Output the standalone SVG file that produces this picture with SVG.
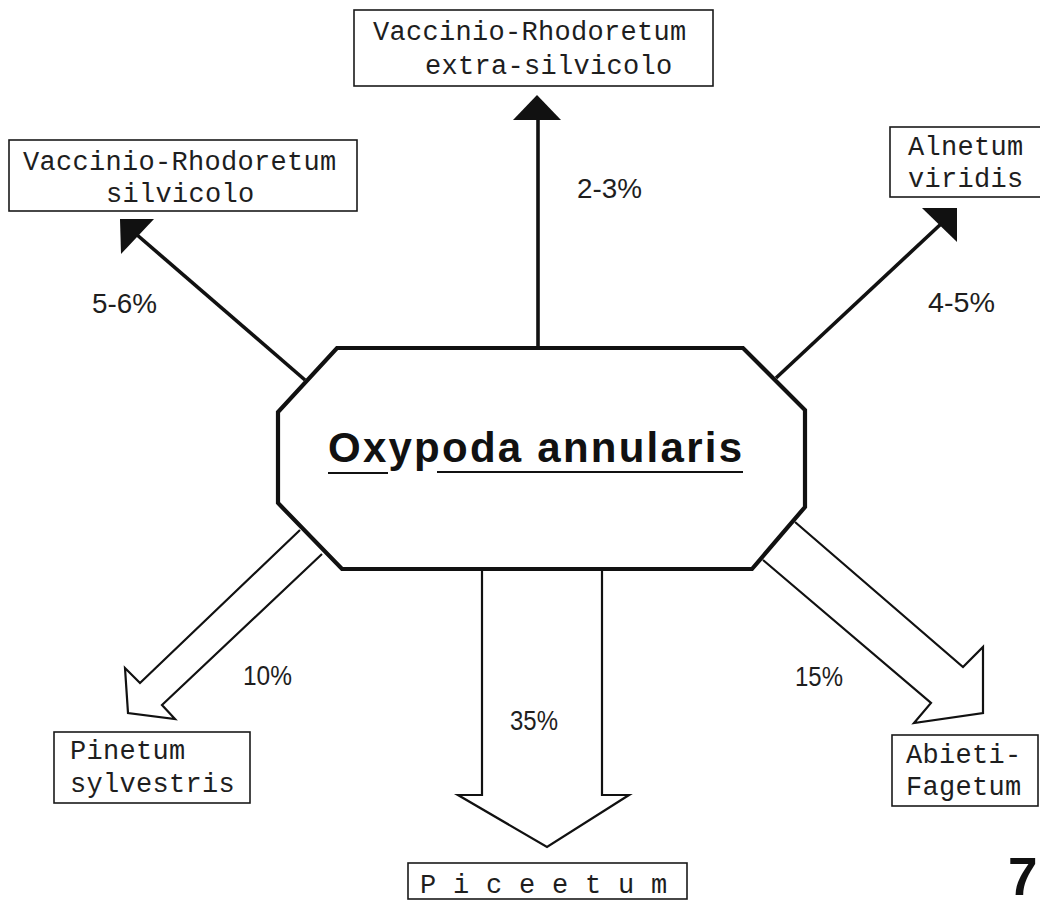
<svg xmlns="http://www.w3.org/2000/svg" width="1040" height="909" viewBox="0 0 1040 909">
<style>
.box{fill:#fff;stroke:#1a1a1a;stroke-width:1.6}
.tw{font-family:"Liberation Mono","DejaVu Sans Mono",monospace;font-size:27px;letter-spacing:0.3px;fill:#1e1e1e}
.pct{font-family:"Liberation Sans","DejaVu Sans",sans-serif;font-size:27px;fill:#1e1e1e}
.solid{fill:none;stroke:#111;stroke-width:3.6}
.head{fill:#111;stroke:none}
.hollow{fill:#fff;stroke:#111;stroke-width:2.2;stroke-linejoin:miter}
.oct{fill:#fff;stroke:#111;stroke-width:4.2;stroke-linejoin:miter}
.title{font-family:"Liberation Sans","DejaVu Sans",sans-serif;font-weight:bold;font-size:42px;fill:#111}
</style>
<rect width="1040" height="909" fill="#fff"/>

<g id="connectors">
  <!-- up: Vaccinio-Rhodoretum extra-silvicolo -->
  <line class="solid" x1="538" y1="350" x2="538" y2="118"/>
  <polygon class="head" points="537,95 513,120 561,120"/>
  <!-- up-left: Vaccinio-Rhodoretum silvicolo -->
  <line class="solid" x1="305" y1="380" x2="136" y2="234"/>
  <polygon class="head" points="120,219 154,219 121,254"/>
  <!-- up-right: Alnetum viridis -->
  <line class="solid" x1="776" y1="378" x2="942" y2="223"/>
  <polygon class="head" points="922,208 957,208 957,242"/>
  <!-- down-left hollow: Pinetum sylvestris -->
  <polyline class="hollow" points="300,530 140,683 125,668 128,713 175,719 162,705 322,554"/>
  <!-- down hollow: Piceetum -->
  <polyline class="hollow" points="482,569 482,795 458,795 547,847 629,795 602,795 602,569"/>
  <!-- down-right hollow: Abieti-Fagetum -->
  <polyline class="hollow" points="795,522 963,667 983,647 983,713 914,723 931,703 763,560"/>
  <!-- percentages -->
  <text class="pct" x="577" y="198" textLength="65" lengthAdjust="spacingAndGlyphs">2-3%</text>
  <text class="pct" x="92" y="313" textLength="65" lengthAdjust="spacingAndGlyphs">5-6%</text>
  <text class="pct" x="928" y="312" textLength="67" lengthAdjust="spacingAndGlyphs">4-5%</text>
  <text class="pct" x="243" y="685" textLength="49" lengthAdjust="spacingAndGlyphs">10%</text>
  <text class="pct" x="510" y="730" textLength="48" lengthAdjust="spacingAndGlyphs">35%</text>
  <text class="pct" x="795" y="686" textLength="48" lengthAdjust="spacingAndGlyphs">15%</text>
</g>

<g id="oxypoda-annularis">
  <polygon class="oct" points="337,348 743,348 805,410 805,507 752,569 342,569 278,503 278,412"/>
  <text class="title" x="328" y="462" textLength="414" lengthAdjust="spacing">Oxypoda annularis</text>
  <line x1="328" y1="473" x2="388" y2="473" stroke="#111" stroke-width="2"/>
  <line x1="437" y1="472" x2="743" y2="472" stroke="#111" stroke-width="2"/>
</g>

<g id="vaccinio-extra">
  <rect class="box" x="354" y="10" width="359" height="76"/>
  <text class="tw" x="373" y="40">Vaccinio-Rhodoretum</text>
  <text class="tw" x="425" y="74">extra-silvicolo</text>
</g>

<g id="vaccinio-silvicolo">
  <rect class="box" x="9" y="140" width="348" height="71"/>
  <text class="tw" x="23" y="170">Vaccinio-Rhodoretum</text>
  <text class="tw" x="106" y="202">silvicolo</text>
</g>

<g id="alnetum-viridis">
  <rect class="box" x="890" y="127" width="160" height="70"/>
  <text class="tw" x="908" y="155">Alnetum</text>
  <text class="tw" x="908" y="187">viridis</text>
</g>

<g id="pinetum-sylvestris">
  <rect class="box" x="54" y="732" width="196" height="71"/>
  <text class="tw" x="70" y="759">Pinetum</text>
  <text class="tw" x="70" y="792">sylvestris</text>
</g>

<g id="abieti-fagetum">
  <rect class="box" x="892" y="735" width="146" height="71"/>
  <text class="tw" x="906" y="763">Abieti-</text>
  <text class="tw" x="906" y="795">Fagetum</text>
</g>

<g id="piceetum">
  <rect class="box" x="408" y="863" width="279" height="36"/>
  <text class="tw" x="420" y="893">P i c e e t u m</text>
</g>

<text x="1008" y="895" font-family="Liberation Sans, DejaVu Sans, sans-serif" font-weight="bold" font-size="53" fill="#111">7</text>
</svg>
